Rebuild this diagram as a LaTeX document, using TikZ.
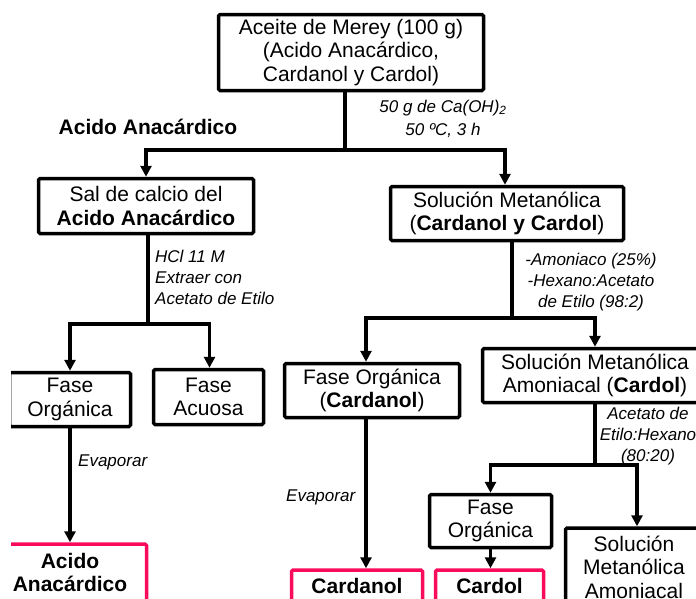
\documentclass[tikz,border=0pt]{standalone}
\usepackage{fontspec}
\setmainfont{Liberation Sans}
\usetikzlibrary{arrows.meta}
\definecolor{pinkc}{RGB}{250,10,90}
\begin{document}
\begin{tikzpicture}[x=1pt,y=-1pt,
 box/.style={draw,line width=3.5pt,rounded corners=1.5pt,align=center,inner sep=0pt,font=\fontsize{21}{23.5}\selectfont},
 res/.style={box,draw=pinkc,font=\bfseries\fontsize{21}{23.5}\selectfont},
 lab/.style={font=\itshape\fontsize{17}{21}\selectfont,inner sep=0pt},
 arr/.style={line width=3.5pt,-{Triangle[length=11pt,width=11pt]}},
 ln/.style={line width=3.5pt}]
\useasboundingbox (0,0) rectangle (696,598);
\clip (11,0) rectangle (696,598);
% boxes
\node[box,minimum width=265pt,minimum height=76pt] (top) at (351,52.5) {Aceite de Merey (100 g)\\(Acido Anacárdico,\\Cardanol y Cardol)};
\node[box,minimum width=215pt,minimum height=55pt] (sal) at (146,206) {Sal de calcio del\\\textbf{Acido Anacárdico}};
\node[box,minimum width=233pt,minimum height=54pt] (solm) at (507,213.5) {Solución Metanólica\\(\textbf{Cardanol y Cardol})};
\node[box,minimum width=121pt,minimum height=54pt] (foL) at (70,399.5) {Fase\\Orgánica};
\node[box,minimum width=110pt,minimum height=55pt] (acu) at (208.5,397) {Fase\\Acuosa};
\node[box,minimum width=175pt,minimum height=54pt] (foC) at (372,390.5) {Fase Orgánica\\(\textbf{Cardanol})};
\node[box,minimum width=225pt,minimum height=54pt] (solmA) at (595,375.5) {Solución Metanólica\\Amoniacal (\textbf{Cardol})};
\node[box,minimum width=122pt,minimum height=53pt] (foS) at (490.5,521) {Fase\\Orgánica};
\node[box,minimum width=137pt,minimum height=78pt] (solmB) at (634,567) {Solución\\Metanólica\\Amoniacal};
\node[res,minimum width=153pt,minimum height=57pt] (pA) at (70,572.5) {Acido\\Anacárdico};
\node[res,minimum width=131pt,minimum height=32pt] (pCn) at (357,586) {Cardanol};
\node[res,minimum width=108pt,minimum height=32pt] (pCl) at (489.5,586) {Cardol};
% labels
\node[font=\bfseries\fontsize{21}{23.5}\selectfont,inner sep=0pt] (lAA) at (148,127) {Acido Anacárdico};
\node[lab,align=center] (l1) at (443,118.5) {50 g de Ca(OH)\textsubscript{2}\\[2pt]50 ºC, 3 h};
\node[lab,align=left,anchor=west] (l2) at (155,277) {HCl 11 M\\Extraer con\\Acetato de Etilo};
\node[lab,align=center] (l3) at (591,282) {-Amoniaco (25\%)\\-Hexano:Acetato\\de Etilo (98:2)};
\node[lab,anchor=west] (l4) at (78,462) {Evaporar};
\node[lab,anchor=west] (l5) at (286,497) {Evaporar};
\node[lab,align=center] (l6) at (648,436) {Acetato de\\Etilo:Hexano\\(80:20)};
% connectors
\coordinate (j1) at (345,150);
\draw[ln] (top.south -| j1) -- (j1);
\draw[arr] (j1) -| (sal.north);
\draw[arr] (j1) -| ([xshift=-2pt]solm.north);
\coordinate (j2) at (148,324);
\draw[ln] (sal.south -| j2) -- (j2);
\draw[arr] (j2) -| (foL.north);
\draw[arr] (j2) -| ([xshift=1pt]acu.north);
\draw[arr] (foL.south) -- (pA.north);
\coordinate (j3) at (512,318);
\draw[ln] (solm.south -| j3) -- (j3);
\draw[arr] (j3) -| ([xshift=-6pt]foC.north);
\draw[arr] (j3) -| (solmA.north);
\coordinate (c1) at (366,0);
\draw[arr] (foC.south -| c1) -- (pCn.north -| c1);
\coordinate (j4) at (595,465);
\draw[ln] (solmA.south -| j4) -- (j4);
\draw[arr] (j4) -| (foS.north);
\draw[arr] (j4) -| ([xshift=3pt]solmB.north);
\draw[arr] (foS.south) -- (pCl.north -| foS.south);
\end{tikzpicture}
\end{document}
